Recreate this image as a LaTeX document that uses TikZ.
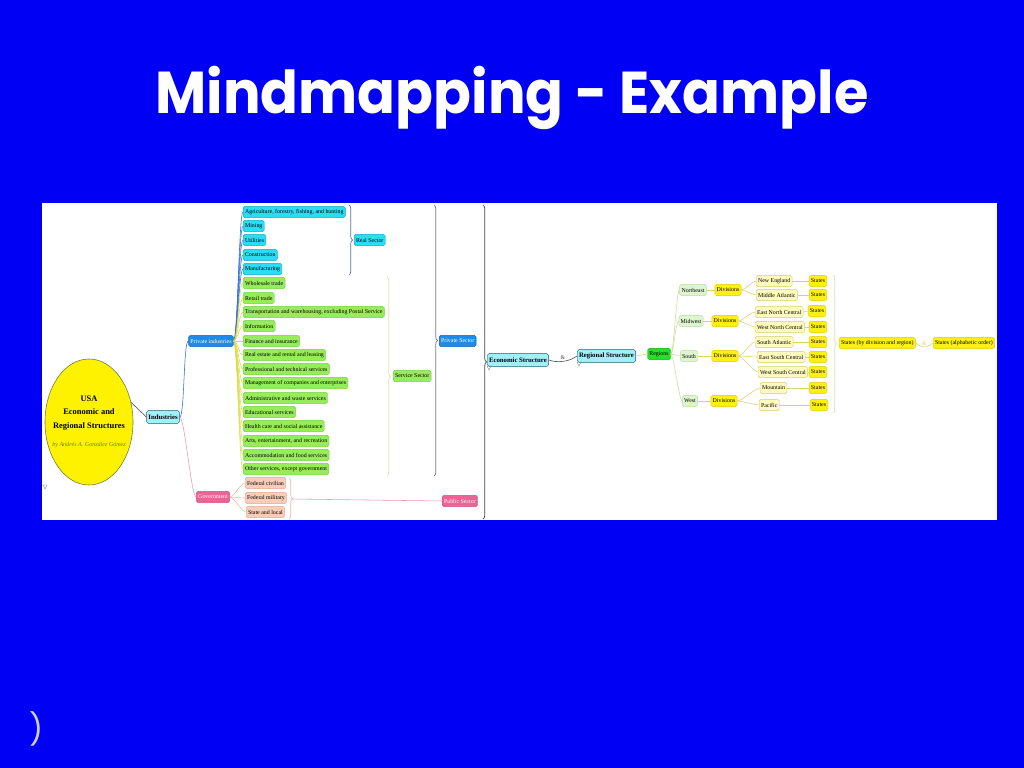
\documentclass[tikz,border=0pt]{standalone}
\usepackage{fontspec}
\setmainfont{Liberation Serif}
\newfontfamily\titlefont{Poppins}
\usetikzlibrary{decorations.pathreplacing,shapes.geometric}
\definecolor{bg}{RGB}{0,0,245}
\definecolor{cyanF}{RGB}{40,222,245}
\definecolor{cyanD}{RGB}{20,170,200}
\definecolor{greenF}{RGB}{150,236,90}
\definecolor{greenD}{RGB}{120,210,70}
\definecolor{blueF}{RGB}{30,140,230}
\definecolor{blueD}{RGB}{20,100,190}
\definecolor{pinkF}{RGB}{236,100,150}
\definecolor{pinkD}{RGB}{210,80,130}
\definecolor{peachF}{RGB}{248,205,185}
\definecolor{peachD}{RGB}{225,170,150}
\definecolor{lcyanF}{RGB}{160,240,250}
\definecolor{lcyanD}{RGB}{30,90,110}
\definecolor{regF}{RGB}{40,222,40}
\definecolor{regD}{RGB}{20,170,20}
\definecolor{lgreenF}{RGB}{222,246,208}
\definecolor{lgreenD}{RGB}{185,220,165}
\definecolor{yelF}{RGB}{255,240,20}
\definecolor{yelD}{RGB}{225,205,0}
\definecolor{lyelF}{RGB}{255,250,190}
\definecolor{lyelD}{RGB}{215,205,120}
\definecolor{ellF}{RGB}{255,242,0}
\definecolor{bylineC}{RGB}{110,120,60}
\definecolor{parenC}{RGB}{205,205,255}
\definecolor{lnBlue}{RGB}{50,110,220}
\definecolor{lnYel}{RGB}{220,220,70}
\definecolor{lnPink}{RGB}{235,150,190}
\definecolor{lnPeach}{RGB}{230,190,170}
\definecolor{lnReg}{RGB}{205,222,150}
\definecolor{lnDiv}{RGB}{215,210,120}
\definecolor{brGrey}{RGB}{120,120,130}
\definecolor{brDark}{RGB}{70,70,80}
\definecolor{brYel}{RGB}{225,225,170}
\definecolor{brBlue}{RGB}{100,110,150}
\begin{document}
\begin{tikzpicture}[x=0.025cm,y=-0.025cm,
  mm/.style={rounded corners=1.2pt, inner xsep=1.3pt, inner ysep=0pt, minimum height=8pt, font=\fontsize{4.2}{5}\selectfont, line width=0.3pt},
  cy/.style={mm, fill=cyanF, draw=cyanD},
  gr/.style={mm, fill=greenF, draw=greenD},
  bl/.style={mm, fill=blueF, draw=blueD, text=white},
  pk/.style={mm, fill=pinkF, draw=pinkD, text=white},
  pe/.style={mm, fill=peachF, draw=peachD},
  lc/.style={mm, fill=lcyanF, draw=lcyanD, font=\fontsize{4.8}{5.5}\selectfont\bfseries, minimum height=9pt},
  rg/.style={mm, fill=regF, draw=regD},
  lg/.style={mm, fill=lgreenF, draw=lgreenD},
  ye/.style={mm, fill=yelF, draw=yelD},
  ly/.style={mm, fill=lyelF, draw=lyelD},
  cn/.style={line width=0.4pt},
  br/.style={decorate, decoration={brace, amplitude=2.5pt}, line width=0.5pt},
  mk/.style={draw=gray, line width=0.3pt}
]
\useasboundingbox (0,0) rectangle (1024,768);
\fill[bg] (0,0) rectangle (1024,768);
\fill[white] (42,203) rectangle (997,520);

% title
\node[text=white, xscale=0.945, font=\titlefont\bfseries\fontsize{42}{50}\selectfont] (title) at (512,98) {Mindmapping - Example};
\node[text=parenC, font=\titlefont\fontsize{22}{26}\selectfont] (paren) at (37,729) {)};

% central ellipse
\node[ellipse, fill=ellF, draw=bylineC, line width=0.4pt, minimum width=2.2cm, minimum height=3.15cm, inner sep=0pt] (usa) at (89,422) {};
\node[align=center, inner sep=0pt, font=\fontsize{6}{9.6}\selectfont\bfseries] (usatext) at (89,422)
 {USA\\Economic and\\Regional Structures\\[3.5pt]{\fontsize{4.3}{5}\selectfont\mdseries\itshape\color{bylineC} by Andrés A. González Gómez}};

\node[lc] (ind) at (163,417) {Industries};
\node[bl] (pi) at (211,341) {Private industries};
\node[pk] (gov) at (213,497) {Government};

% private industries children
\node[cy, anchor=west] (c1) at (243,212) {Agriculture, forestry, fishing, and hunting};
\node[cy, anchor=west] (c2) at (243,226) {Mining};
\node[cy, anchor=west] (c3) at (243,240) {Utilities};
\node[cy, anchor=west] (c4) at (243,255) {Construction};
\node[cy, anchor=west] (c5) at (243,269) {Manufacturing};
\node[gr, anchor=west] (g1) at (243,283) {Wholesale trade};
\node[gr, anchor=west] (g2) at (243,298) {Retail trade};
\node[gr, anchor=west] (g3) at (243,312) {Transportation and warehousing, excluding Postal Service};
\node[gr, anchor=west] (g4) at (243,326) {Information};
\node[gr, anchor=west] (g5) at (243,341) {Finance and insurance};
\node[gr, anchor=west] (g6) at (243,355) {Real estate and rental and leasing};
\node[gr, anchor=west] (g7) at (243,369) {Professional and technical services};
\node[gr, anchor=west] (g8) at (243,383) {Management of companies and enterprises};
\node[gr, anchor=west] (g9) at (243,398) {Administrative and waste services};
\node[gr, anchor=west] (g10) at (243,412) {Educational services};
\node[gr, anchor=west] (g11) at (243,426) {Health care and social assistance};
\node[gr, anchor=west] (g12) at (243,441) {Arts, entertainment, and recreation};
\node[gr, anchor=west] (g13) at (243,455) {Accommodation and food services};
\node[gr, anchor=west] (g14) at (243,469) {Other services, except government};
\node[pe, anchor=west] (f1) at (245,483) {Federal civilian};
\node[pe, anchor=west] (f2) at (245,498) {Federal military};
\node[pe, anchor=west] (f3) at (246,512) {State and local};

% sector nodes
\node[cy, anchor=west] (rsec) at (354,240) {Real Sector};
\node[gr, anchor=west] (ssec) at (393,376) {Service Sector};
\node[bl, anchor=west] (psec) at (439,341) {Private Sector};
\node[pk, anchor=west] (pub) at (442,501) {Public Sector};

% bracket coordinates
\coordinate (rbT) at (349,205); \coordinate (rbB) at (349,275);
\coordinate (sbT) at (387,277); \coordinate (sbB) at (387,476);
\coordinate (pbT) at (434,205); \coordinate (pbB) at (434,476);
\coordinate (ebT) at (483,205); \coordinate (ebB) at (483,519);
\coordinate (gbT) at (289,478); \coordinate (gbB) at (289,519);
\coordinate (gbTip) at (292,499);
\coordinate (stT) at (833,275); \coordinate (stB) at (833,413);

\draw[br, brBlue] (rbT) -- (rbB);
\draw[br, brYel] (sbT) -- (sbB);
\draw[br, brGrey] (pbT) -- (pbB);
\draw[br, brDark] (ebT) -- (ebB);
\draw[br, lnPeach] (gbT) -- (gbB);
\draw[br, brYel] (stT) -- (stB);

% right half
\node[lc, anchor=west] (es) at (487,360) {Economic Structure};
\node[lc, anchor=west] (rs) at (577,356) {Regional Structure};
\node[rg] (reg) at (659,354) {Regions};
\node[lg] (ne) at (693,290) {Northeast};
\node[lg] (mw) at (691,321) {Midwest};
\node[lg] (so) at (689,356) {South};
\node[lg] (we) at (690,401) {West};
\node[ye] (ned) at (728,290) {Divisions};
\node[ye] (mwd) at (725,321) {Divisions};
\node[ye] (sod) at (725,356) {Divisions};
\node[ye] (wed) at (724,401) {Divisions};
\node[ly, anchor=west] (d1) at (756,281) {New England};
\node[ly, anchor=west] (d2) at (756,295) {Middle Atlantic};
\node[ly, anchor=west] (d3) at (755,312) {East North Central};
\node[ly, anchor=west] (d4) at (755,327) {West North Central};
\node[ly, anchor=west] (d5) at (755,342) {South Atlantic};
\node[ly, anchor=west] (d6) at (757,357) {East South Central};
\node[ly, anchor=west] (d7) at (758,372) {West South Central};
\node[ly, anchor=west] (d8) at (760,388) {Mountain};
\node[ly, anchor=west] (d9) at (759,405) {Pacific};
\node[ye] (s1) at (818,281) {States};
\node[ye] (s2) at (818,295) {States};
\node[ye] (s3) at (817,311) {States};
\node[ye] (s4) at (818,327) {States};
\node[ye] (s5) at (818,342) {States};
\node[ye] (s6) at (818,357) {States};
\node[ye] (s7) at (818,372) {States};
\node[ye] (s8) at (818,388) {States};
\node[ye] (s9) at (819,405) {States};
\node[ye, anchor=west] (sdr) at (839,343) {States (by division and region)};
\node[ye, anchor=west] (sab) at (933,343) {States (alphabetic order)};

% markers
\draw[mk] (43,485) -- (47,485) -- (45,489) -- cycle;
\draw[mk] (487,366) -- (491,366) -- (489,370) -- cycle;
\draw[mk] (577,362) -- (581,362) -- (579,366) -- cycle;

% connectors left
\draw[cn, brDark] (usa.25) -- (ind.west);
\draw[cn, lnBlue] (ind.east) .. controls +(5,0) and +(-5,0) .. (pi.west);
\draw[cn, lnPink] (ind.east) .. controls +(5,0) and +(-5,0) .. (gov.west);
\foreach \n in {c1,c2,c3,c4,c5}
  \draw[cn, lnBlue] (pi.east) .. controls +(4,0) and +(-4,0) .. (\n.west);
\foreach \n in {g1,g2,g3,g4,g5,g6,g7,g8,g9,g10,g11,g12,g13,g14}
  \draw[cn, lnYel] (pi.east) .. controls +(4,0) and +(-4,0) .. (\n.west);
\foreach \n in {f1,f2,f3}
  \draw[cn, lnPeach] (gov.east) .. controls +(4,0) and +(-4,0) .. (\n.west);
\draw[cn, lnPink] (gbTip) -- (pub.west);

% connectors right
\draw[cn, brDark] (es.east) .. controls +(8,3) and +(-8,6) .. node[pos=0.5, above=0.5pt, font=\fontsize{4.2}{5}\selectfont, inner sep=0.5pt] (amp1) {\&} (rs.west);
\draw[cn, lnDiv] (rs.east) -- (reg.west);
\foreach \n in {ne,mw,so,we}
  \draw[cn, lnReg] (reg.east) .. controls +(3,0) and +(-3,0) .. (\n.west);
\draw[cn, lnDiv] (ne) -- (ned);
\draw[cn, lnDiv] (mw) -- (mwd);
\draw[cn, lnDiv] (so) -- (sod);
\draw[cn, lnDiv] (we) -- (wed);
\foreach \a/\b in {ned/d1,ned/d2,mwd/d3,mwd/d4,sod/d5,sod/d6,sod/d7,wed/d8,wed/d9}
  \draw[cn, lnDiv] (\a.east) .. controls +(4,0) and +(-4,0) .. (\b.west);
\foreach \a/\b in {d1/s1,d2/s2,d3/s3,d4/s4,d5/s5,d6/s6,d7/s7,d8/s8,d9/s9}
  \draw[cn, lnDiv] (\a.east) -- (\b.west);
\draw[cn, lnDiv] (sdr.east) .. controls +(8,5) and +(-8,6) .. node[pos=0.5, above=0.5pt, font=\fontsize{4.2}{5}\selectfont, inner sep=0.5pt] (amp2) {\&} (sab.west);
\end{tikzpicture}
\end{document}
